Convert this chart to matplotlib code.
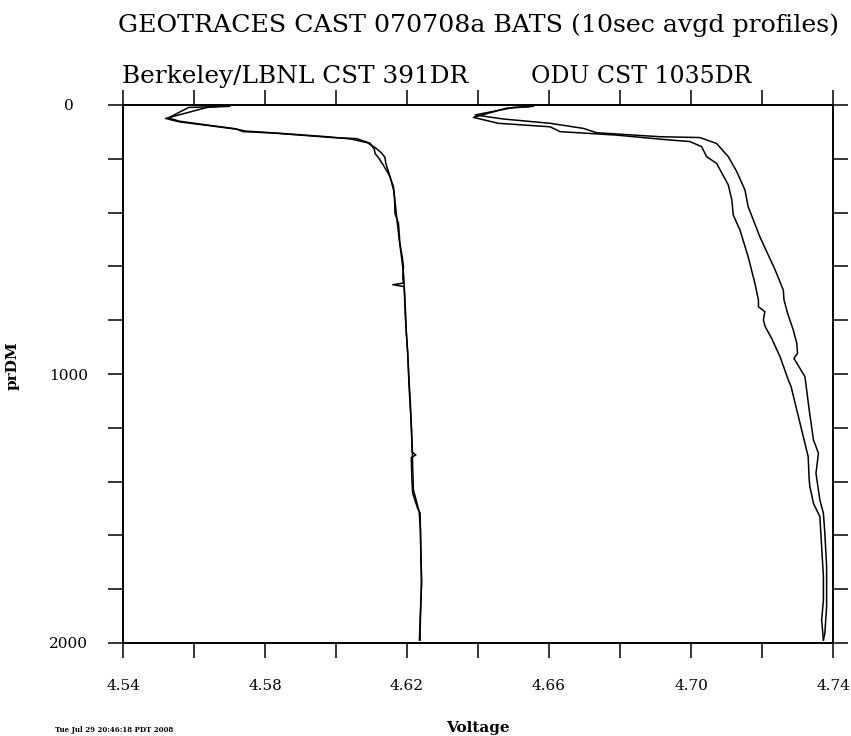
import matplotlib
matplotlib.use("Agg")
from matplotlib import pyplot as plt
from matplotlib.ticker import MultipleLocator, FixedLocator

# Berkeley/LBNL CST 391DR, two casts (pressure dbar, voltage)
lbnl_a_pr = [5, 8, 50, 63, 77, 90, 99, 104, 121, 125, 142, 165, 180, 200, 223,
             260, 304, 350, 403, 440, 514, 560, 601, 640, 662, 668, 675, 700,
             773, 850, 920, 1022, 1100, 1208, 1290, 1301, 1310, 1400, 1443,
             1500, 1517, 1600, 1700, 1766, 1850, 1900, 1950, 1989]
lbnl_a_v = [4.5701, 4.5640, 4.5520, 4.5560, 4.5645, 4.5720, 4.5738, 4.5820,
            4.5990, 4.6058, 4.6096, 4.6108, 4.6110, 4.6122, 4.6133, 4.6150,
            4.6162, 4.6165, 4.6166, 4.6176, 4.6180, 4.6186, 4.6190, 4.6188,
            4.6190, 4.6160, 4.6192, 4.6193, 4.6196, 4.6198, 4.6202, 4.6205,
            4.6208, 4.6213, 4.6214, 4.6225, 4.6212, 4.6214, 4.6216, 4.6230,
            4.6237, 4.6238, 4.6240, 4.6241, 4.6239, 4.6238, 4.6237, 4.6237]

lbnl_b_pr = [6, 9, 48, 60, 75, 88, 97, 106, 118, 126, 140, 160, 178, 195, 215,
             240, 280, 320, 380, 430, 500, 580, 640, 700, 780, 860, 950, 1030,
             1120, 1200, 1280, 1350, 1430, 1510, 1580, 1680, 1780, 1880, 1989]
lbnl_b_v = [4.5665, 4.5585, 4.5528, 4.5558, 4.5640, 4.5715, 4.5745, 4.5850,
            4.5975, 4.6040, 4.6088, 4.6112, 4.6128, 4.6138, 4.6140, 4.6146,
            4.6155, 4.6163, 4.6168, 4.6172, 4.6178, 4.6186, 4.6191, 4.6193,
            4.6195, 4.6199, 4.6203, 4.6206, 4.6210, 4.6212, 4.6215, 4.6216,
            4.6218, 4.6234, 4.6238, 4.6239, 4.6241, 4.6238, 4.6235]

# ODU CST 1035DR, two casts
odu_a_pr = [5, 9, 37, 52, 68, 87, 103, 118, 121, 143, 192, 248, 316, 378, 490,
            613, 688, 725, 774, 836, 886, 923, 942, 1010, 1134, 1245, 1295,
            1369, 1468, 1518, 1592, 1716, 1865, 1964, 1989]
odu_a_v = [4.6556, 4.6500, 4.6392, 4.6471, 4.6603, 4.6697, 4.6734, 4.6913,
           4.7025, 4.7072, 4.7105, 4.7129, 4.7152, 4.7161, 4.7194, 4.7237,
           4.7260, 4.7262, 4.7272, 4.7288, 4.7298, 4.7300, 4.7290, 4.7321,
           4.7333, 4.7345, 4.7359, 4.7352, 4.7363, 4.7373, 4.7377, 4.7382,
           4.7382, 4.7377, 4.7373]

odu_b_pr = [6, 12, 46, 68, 81, 99, 112, 128, 136, 155, 192, 217, 297, 353, 409,
            465, 564, 663, 725, 750, 768, 799, 824, 867, 936, 1022, 1047, 1134,
            1258, 1307, 1394, 1419, 1481, 1530, 1642, 1753, 1840, 1915, 1989]
odu_b_v = [4.6546, 4.6480, 4.6387, 4.6457, 4.6603, 4.6631, 4.6791, 4.6922,
           4.6997, 4.7030, 4.7044, 4.7072, 4.7105, 4.7115, 4.7119, 4.7138,
           4.7161, 4.7180, 4.7190, 4.7190, 4.7208, 4.7204, 4.7209, 4.7227,
           4.7251, 4.7274, 4.7282, 4.7298, 4.7321, 4.7330, 4.7333, 4.7335,
           4.7345, 4.7363, 4.7368, 4.7373, 4.7373, 4.7368, 4.7373]

x_ticks = [4.54, 4.58, 4.62, 4.66, 4.70, 4.74]
x_tick_labels = ["4.54", "4.58", "4.62", "4.66", "4.70", "4.74"]
y_ticks = [0, 1000, 2000]
y_tick_labels = ["0", "1000", "2000"]

title = "GEOTRACES CAST 070708a BATS (10sec avgd profiles)"
sub_left = "Berkeley/LBNL CST 391DR"
sub_right = "ODU CST 1035DR"
stamp = "Tue Jul 29 20:46:18 PDT 2008"

serif = "DejaVu Serif"

fig = plt.figure(figsize=(8.51, 7.36), dpi=100)
ax = fig.add_axes([123 / 851, 1 - 643 / 736, 710 / 851, 538 / 736])

for pr, v in [(lbnl_a_pr, lbnl_a_v), (lbnl_b_pr, lbnl_b_v),
              (odu_a_pr, odu_a_v), (odu_b_pr, odu_b_v)]:
    ax.plot(v, pr, color="black", linewidth=1.1)

ax.set_xlim(4.54, 4.74)
ax.set_ylim(2000, 0)

ax.xaxis.set_major_locator(FixedLocator(x_ticks))
ax.set_xticklabels(x_tick_labels, family=serif, fontsize=11)
ax.xaxis.set_minor_locator(MultipleLocator(0.02))
ax.yaxis.set_major_locator(FixedLocator(y_ticks))
ax.set_yticklabels(y_tick_labels, family=serif, fontsize=11)
ax.yaxis.set_minor_locator(MultipleLocator(200))

ax.tick_params(which="both", direction="out", length=11, width=1.1,
               top=True, right=True)
ax.tick_params(axis="x", which="major", pad=15)
ax.tick_params(axis="y", which="major", pad=28)
for lbl in ax.get_yticklabels():
    lbl.set_horizontalalignment("center")

for sp in ax.spines.values():
    sp.set_linewidth(1.4)

ax.set_ylabel("prDM", family=serif, fontweight="bold", fontsize=11)
ax.yaxis.set_label_coords((20 - 123) / 710, (643 - 366) / 538)

fig.text(478 / 851, 1 - 728 / 736, "Voltage", family=serif, fontweight="bold",
         fontsize=11, ha="center", va="center")
fig.text(55 / 851, 1 - 730 / 736, stamp, family=serif, fontweight="bold",
         fontsize=5, ha="left", va="center")

fig.text(478 / 851, 1 - 32 / 736, title, family=serif, fontsize=18.2,
         ha="center", va="baseline")
fig.text(295 / 851, 1 - 83 / 736, sub_left, family=serif, fontsize=17.8,
         ha="center", va="baseline")
fig.text(641 / 851, 1 - 83 / 736, sub_right, family=serif, fontsize=17,
         ha="center", va="baseline")

fig.savefig("out.png", dpi=100)
